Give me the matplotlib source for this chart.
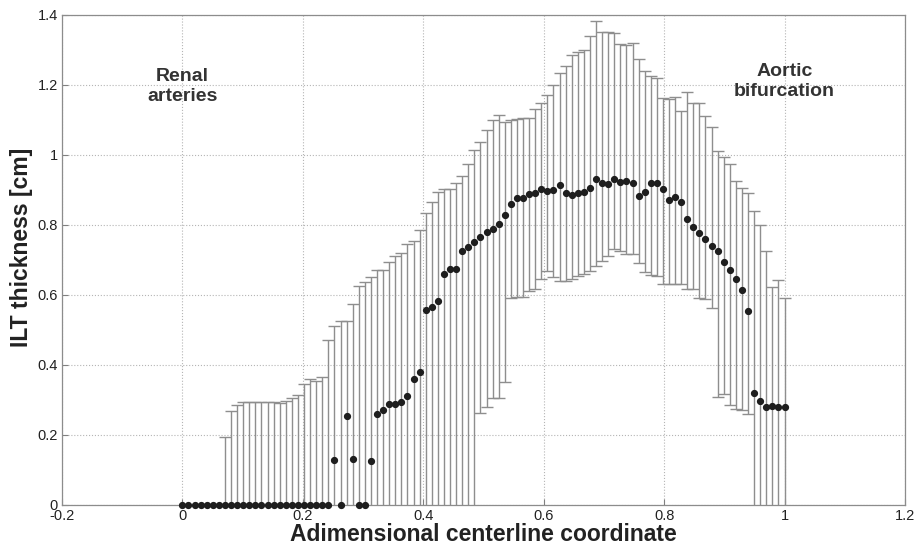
import numpy as np
import matplotlib
matplotlib.use("Agg")
import matplotlib.pyplot as plt

plt.rcParams['font.family'] = ['Liberation Sans', 'DejaVu Sans']

# 100 sections along the normalised centerline
x_coord = np.linspace(0, 1, 100)

# mean ILT thickness [cm]
mean_thk = np.array([
    0, 0, 0, 0, 0, 0, 0, 0, 0, 0,
    0, 0, 0, 0, 0, 0, 0, 0, 0, 0,
    0, 0, 0, 0, 0, 0.128, 0, 0.253, 0.13, 0,
    0, 0.127, 0.261, 0.272, 0.288, 0.288, 0.294, 0.31, 0.359, 0.381,
    0.558, 0.566, 0.584, 0.66, 0.674, 0.674, 0.726, 0.737, 0.75, 0.766,
    0.781, 0.788, 0.804, 0.828, 0.859, 0.876, 0.877, 0.889, 0.89, 0.903,
    0.896, 0.899, 0.915, 0.891, 0.887, 0.891, 0.894, 0.906, 0.93, 0.92,
    0.918, 0.93, 0.922, 0.925, 0.92, 0.882, 0.894, 0.92, 0.92, 0.903,
    0.872, 0.879, 0.866, 0.817, 0.793, 0.778, 0.76, 0.741, 0.727, 0.693,
    0.671, 0.646, 0.614, 0.553, 0.319, 0.297, 0.281, 0.284, 0.279, 0.279,
])

# top of the error bar
upper_thk = np.array([
    0, 0, 0, 0, 0, 0, 0, 0.194, 0.268, 0.285,
    0.293, 0.294, 0.294, 0.295, 0.295, 0.293, 0.292, 0.297, 0.306, 0.314,
    0.345, 0.36, 0.355, 0.365, 0.47, 0.511, 0.527, 0.527, 0.574, 0.626,
    0.637, 0.65, 0.67, 0.67, 0.695, 0.71, 0.72, 0.747, 0.753, 0.787,
    0.834, 0.866, 0.895, 0.903, 0.903, 0.921, 0.939, 0.974, 1.014, 1.037,
    1.07, 1.1, 1.114, 1.095, 1.101, 1.104, 1.106, 1.107, 1.13, 1.149,
    1.172, 1.2, 1.234, 1.253, 1.287, 1.293, 1.3, 1.34, 1.382, 1.35,
    1.35, 1.349, 1.317, 1.315, 1.32, 1.274, 1.241, 1.225, 1.22, 1.163,
    1.159, 1.165, 1.127, 1.179, 1.148, 1.148, 1.11, 1.079, 1.01, 0.993,
    0.973, 0.926, 0.907, 0.89, 0.841, 0.8, 0.727, 0.622, 0.643, 0.59,
])

# bottom of the error bar (negative = runs below the axis)
lower_thk = np.array([
    0, 0, 0, 0, 0, 0, 0, -0.1, -0.1, -0.1,
    -0.1, -0.1, -0.1, -0.1, -0.1, -0.1, -0.1, -0.1, -0.1, -0.1,
    -0.1, -0.1, -0.1, -0.1, -0.1, -0.1, -0.1, -0.1, -0.1, -0.1,
    -0.1, -0.1, -0.1, -0.1, -0.1, -0.1, -0.1, -0.1, -0.1, -0.1,
    -0.1, -0.1, -0.1, -0.1, -0.1, -0.1, -0.1, -0.1, -0.1, 0.263,
    0.279, 0.305, 0.307, 0.35, 0.59, 0.593, 0.594, 0.61, 0.618, 0.647,
    0.668, 0.65, 0.64, 0.64, 0.645, 0.653, 0.66, 0.668, 0.683, 0.698,
    0.712, 0.73, 0.725, 0.716, 0.716, 0.69, 0.665, 0.658, 0.653, 0.632,
    0.63, 0.63, 0.632, 0.617, 0.616, 0.59, 0.588, 0.564, 0.308, 0.316,
    0.285, 0.273, 0.271, 0.26, -0.1, -0.1, -0.1, -0.1, -0.1, -0.1,
])

x_ticks = [-0.2, 0, 0.2, 0.4, 0.6, 0.8, 1, 1.2]
y_ticks = [0, 0.2, 0.4, 0.6, 0.8, 1, 1.2, 1.4]

fig = plt.figure(figsize=(9.17, 5.45), dpi=100)
ax = fig.add_axes([0.0676, 0.0734, 0.9193, 0.8991])

has_bar = upper_thk > mean_thk
ax.errorbar(x_coord[has_bar], mean_thk[has_bar],
            yerr=[mean_thk[has_bar] - lower_thk[has_bar], upper_thk[has_bar] - mean_thk[has_bar]],
            fmt='none', ecolor='#8e8e8e', elinewidth=1.0, capsize=4.3, capthick=1.0, zorder=2)
ax.plot(x_coord, mean_thk, 'o', color='#1e1e1e', markersize=4.2, clip_on=False, zorder=3)

ax.set_xlim(-0.2, 1.2)
ax.set_ylim(0, 1.4)
ax.set_xticks(x_ticks)
ax.set_xticklabels(['-0.2', '0', '0.2', '0.4', '0.6', '0.8', '1', '1.2'])
ax.set_yticks(y_ticks)
ax.set_yticklabels(['0', '0.2', '0.4', '0.6', '0.8', '1', '1.2', '1.4'])
ax.grid(True, linestyle=':', color='#b5b5b5', linewidth=0.8)
ax.set_axisbelow(True)
ax.tick_params(direction='in', length=4, width=0.8, color='#808080',
               labelsize=10.5, labelcolor='#222222', pad=3)
for sp in ax.spines.values():
    sp.set_color('#8c8c8c')
    sp.set_linewidth(0.9)

ax.set_xlabel('Adimensional centerline coordinate', fontsize=16.5, fontweight='bold', color='#222222')
ax.set_ylabel('ILT thickness [cm]', fontsize=16.5, fontweight='bold', color='#222222')
ax.xaxis.set_label_coords(0.5, -0.036)
ax.yaxis.set_label_coords(-0.034, 0.525)

ax.text(0.0, 1.195, 'Renal\narteries', ha='center', va='center', fontsize=14,
        fontweight='bold', color='#333333', linespacing=1.2)
ax.text(1.0, 1.21, 'Aortic\nbifurcation', ha='center', va='center', fontsize=14,
        fontweight='bold', color='#333333', linespacing=1.2)

fig.savefig('out.png', dpi=100)
